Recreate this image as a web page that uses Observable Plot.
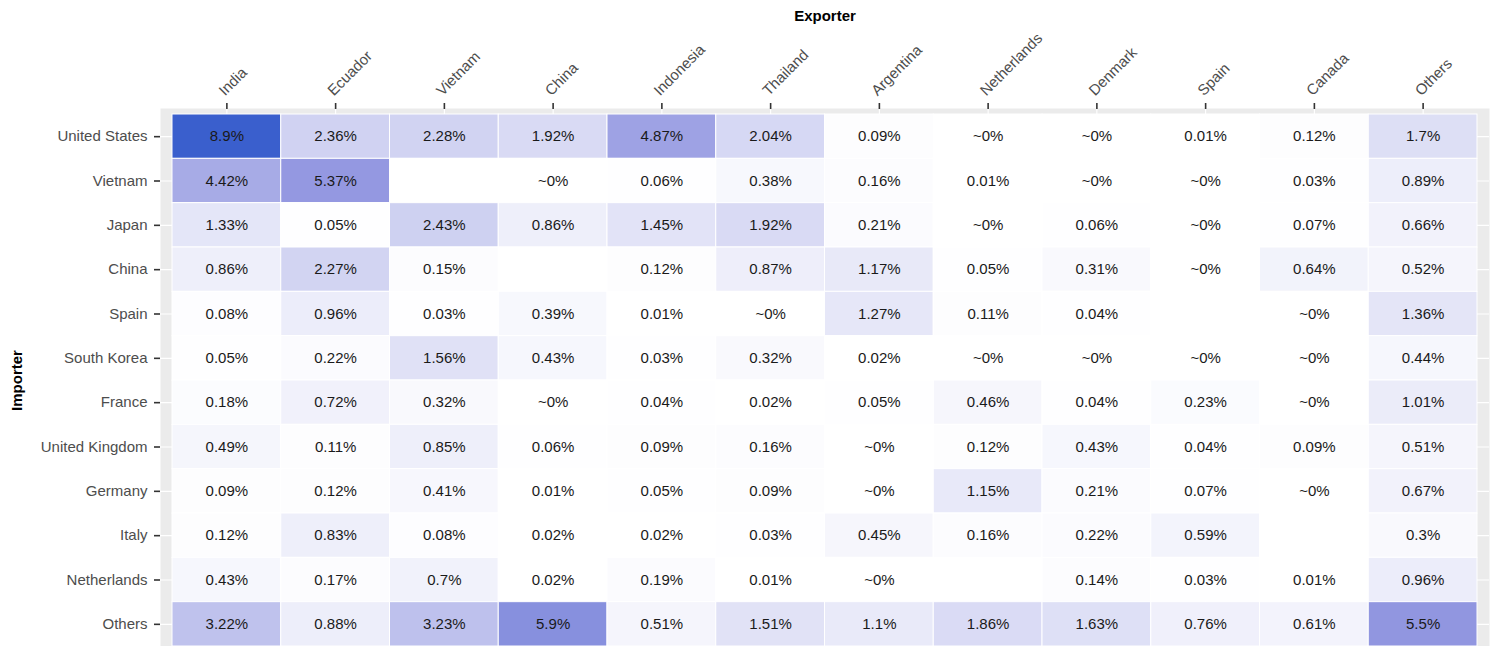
<!DOCTYPE html>
<html>
<head>
<meta charset="utf-8">
<script src="https://cdn.jsdelivr.net/npm/d3@7"></script>
<script src="https://cdn.jsdelivr.net/npm/@observablehq/plot@0.6"></script>
<style>
  body { margin: 0; background: #ffffff; }
  #chart svg { display: block; }
</style>
</head>
<body>
<div id="chart"></div>
<script>
// Exporters (columns) and importers (rows)
const exporters = ["India", "Ecuador", "Vietnam", "China", "Indonesia", "Thailand", "Argentina", "Netherlands", "Denmark", "Spain", "Canada", "Others"];
const importers = ["United States", "Vietnam", "Japan", "China", "Spain", "South Korea", "France", "United Kingdom", "Germany", "Italy", "Netherlands", "Others"];

// Share of world trade (%), one array per importer row; 0 = "~0", null = no value
const unitedStates  = [8.9, 2.36, 2.28, 1.92, 4.87, 2.04, 0.09, 0, 0, 0.01, 0.12, 1.7];
const vietnam       = [4.42, 5.37, null, 0, 0.06, 0.38, 0.16, 0.01, 0, 0, 0.03, 0.89];
const japan         = [1.33, 0.05, 2.43, 0.86, 1.45, 1.92, 0.21, 0, 0.06, 0, 0.07, 0.66];
const china         = [0.86, 2.27, 0.15, null, 0.12, 0.87, 1.17, 0.05, 0.31, 0, 0.64, 0.52];
const spain         = [0.08, 0.96, 0.03, 0.39, 0.01, 0, 1.27, 0.11, 0.04, null, 0, 1.36];
const southKorea    = [0.05, 0.22, 1.56, 0.43, 0.03, 0.32, 0.02, 0, 0, 0, 0, 0.44];
const france        = [0.18, 0.72, 0.32, 0, 0.04, 0.02, 0.05, 0.46, 0.04, 0.23, 0, 1.01];
const unitedKingdom = [0.49, 0.11, 0.85, 0.06, 0.09, 0.16, 0, 0.12, 0.43, 0.04, 0.09, 0.51];
const germany       = [0.09, 0.12, 0.41, 0.01, 0.05, 0.09, 0, 1.15, 0.21, 0.07, 0, 0.67];
const italy         = [0.12, 0.83, 0.08, 0.02, 0.02, 0.03, 0.45, 0.16, 0.22, 0.59, null, 0.3];
const netherlands   = [0.43, 0.17, 0.7, 0.02, 0.19, 0.01, 0, null, 0.14, 0.03, 0.01, 0.96];
const others        = [3.22, 0.88, 3.23, 5.9, 0.51, 1.51, 1.1, 1.86, 1.63, 0.76, 0.61, 5.5];

const rows = [unitedStates, vietnam, japan, china, spain, southKorea, france, unitedKingdom, germany, italy, netherlands, others];

const data = [];
rows.forEach((vals, i) => {
  vals.forEach((v, j) => {
    data.push({importer: importers[i], exporter: exporters[j], value: v});
  });
});

const label = d => d.value == null ? "" : (d.value === 0 ? "~0%" : `${d.value}%`);

const plot = Plot.plot({
  width: 1496,
  height: 646,
  marginTop: 114,
  marginLeft: 172,
  marginRight: 19,
  marginBottom: 0,
  style: {fontFamily: "'Liberation Sans', Arial, Helvetica, sans-serif", fontSize: "15px", background: "#ffffff"},
  x: {domain: exporters, padding: 0, round: false, label: null},
  y: {domain: importers, padding: 0, round: false, label: null},
  color: {type: "linear", domain: [0, 5.5, 8.9], range: ["#ffffff", "#9196e0", "#3a5fcd"], interpolate: "rgb"},
  marks: [
    Plot.frame({fill: "#EBEBEB", stroke: "none", insetTop: -6, insetLeft: -12, insetRight: -12, insetBottom: -6}),
    Plot.ruleX(exporters, {x: d => d, stroke: "#ffffff", strokeWidth: 1.1, insetTop: -6}),
    Plot.ruleY(importers, {y: d => d, stroke: "#ffffff", strokeWidth: 1.1, insetLeft: -12, insetRight: -12}),
    Plot.cell(data, {x: "exporter", y: "importer", fill: d => d.value ?? 0, stroke: "#ffffff", strokeWidth: 1, inset: 0}),
    Plot.text(data, {x: "exporter", y: "importer", text: label, fill: "#1a1a1a", fontSize: 15}),
    Plot.axisX({anchor: "top", tickSize: 6, dy: -6, tickFormat: () => "", label: null, stroke: "#333333", strokeWidth: 1.6}),
    Plot.text(exporters, {x: d => d, text: d => d, frameAnchor: "top", rotate: -45, textAnchor: "start", lineAnchor: "bottom", dx: -2, dy: -18, fill: "#4D4D4D", fontSize: 15}),
    Plot.axisY({anchor: "left", tickSize: 6, dx: -12, tickPadding: 7, label: null, stroke: "#333333", strokeWidth: 1.6, fill: "#4D4D4D", fontSize: 15}),
    Plot.text(["Exporter"], {frameAnchor: "top", dy: -94, textAnchor: "middle", lineAnchor: "bottom", fontWeight: "bold", fill: "#000000", fontSize: 15}),
    Plot.text(["Importer"], {frameAnchor: "left", dx: -151, rotate: -90, textAnchor: "middle", lineAnchor: "bottom", fontWeight: "bold", fill: "#000000", fontSize: 15})
  ]
});

document.getElementById("chart").appendChild(plot);
</script>
</body>
</html>
